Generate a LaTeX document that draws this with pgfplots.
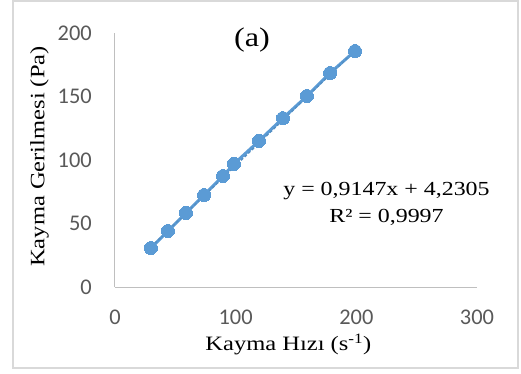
\documentclass[border=0pt]{standalone}
\usepackage{fontspec}
\setmainfont{Liberation Serif}[FakeStretch=1.2]
\newfontfamily\calibri{Carlito}
\usepackage{pgfplots}
\pgfplotsset{compat=1.18}
\definecolor{ser}{HTML}{5B9BD5}
\definecolor{tickgray}{HTML}{595959}
\definecolor{axisgray}{HTML}{BFBFBF}
\definecolor{framegray}{HTML}{D9D9D9}
\begin{document}
\begin{tikzpicture}
\path (-115bp,-87bp) rectangle (406bp,287bp);
\begin{axis}[
  at={(0,0)}, anchor=south west,
  scale only axis, width=362bp, height=254bp,
  xmin=0, xmax=300, ymin=0, ymax=200,
  xtick={0,100,200,300}, ytick={0,50,100,150,200},
  axis x line*=bottom, axis y line*=left,
  axis line style={draw=axisgray, line width=1bp},
  tick style={draw=none},
  tick label style={font=\calibri\fontsize{22.5}{26}\selectfont, text=tickgray},
  /pgf/number format/assume math mode=true,
  yticklabel style={inner sep=0pt, anchor=east, xshift=-23bp},
  xticklabel style={inner sep=0pt, anchor=north, yshift=-23bp},
  xlabel={Kayma Hızı (s\textsuperscript{-1})},
  ylabel={Kayma Gerilmesi (Pa)},
  label style={font=\fontsize{20.5}{24}\selectfont, inner sep=0pt},
  xlabel style={at={(axis description cs:0.479,-0.2508)}, anchor=base},
  ylabel style={at={(axis description cs:-0.2348,0.514)}, anchor=north},
  clip=false,
]
\addplot[ser, line width=3bp, mark=*, mark size=6.5bp, mark options={fill=ser, draw=ser, line width=0pt}]
  coordinates {(29.8,30.7)(43.9,44.1)(58.8,58.3)(73.8,72.4)(89.5,87.4)(98.6,96.9)(119.3,115.0)(139.2,133.0)(159.1,150.4)(178.2,168.5)(198.9,185.8)};
\addplot[ser!92!black, line width=1.5bp, dash pattern=on 3bp off 2bp, no marks]
  coordinates {(29.8,31.49)(198.9,186.17)};
\node[font=\fontsize{27}{30}\selectfont, anchor=base] at (axis cs:113.5,189) {(a)};
\node[font=\fontsize{20}{24}\selectfont, anchor=base] at (axis cs:225,72.4) {y = 0,9147x + 4,2305};
\node[font=\fontsize{20}{24}\selectfont, anchor=base] at (axis cs:225,50.4) {R² = 0,9997};
\end{axis}
\draw[framegray, line width=1.5bp] (-102bp,-81bp) rectangle (403bp,286bp);
\end{tikzpicture}
\end{document}
